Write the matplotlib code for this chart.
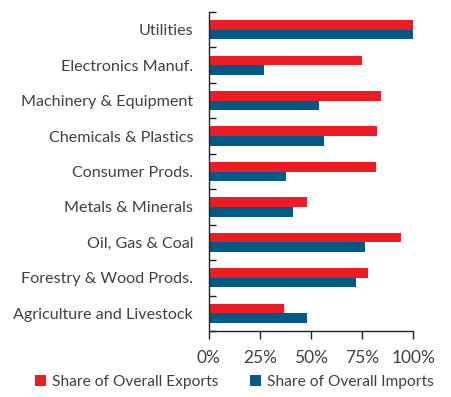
import numpy as np
import matplotlib
matplotlib.use('Agg')
import matplotlib.pyplot as plt
from matplotlib.ticker import FixedLocator, PercentFormatter

# Sector shares, top to bottom as listed
sectors = ['Utilities', 'Electronics Manuf.', 'Machinery & Equipment',
           'Chemicals & Plastics', 'Consumer Prods.', 'Metals & Minerals',
           'Oil, Gas & Coal', 'Forestry & Wood Prods.', 'Agriculture and Livestock']
exports = [100, 75, 84, 82, 81.5, 48, 94, 78, 37]
imports = [100, 27, 54, 56.5, 38, 41, 76.5, 72, 48]

red = '#ED1C24'
blue = '#005A87'
txt = '#404040'

plt.rcParams['font.family'] = ['Lato', 'DejaVu Sans']
plt.rcParams['font.size'] = 11.6

fig = plt.figure(figsize=(4.52, 3.97), dpi=100)
ax = fig.add_axes([0.4613, 0.1662, 0.4535, 0.8036])

n = len(sectors)
y = np.arange(n)[::-1]
h = 0.27
ax.barh(y + h / 2, exports, height=h, color=red, label='Share of Overall Exports')
ax.barh(y - h / 2, imports, height=h, color=blue, label='Share of Overall Imports')

ax.set_xlim(0, 100)
ax.set_ylim(-0.5, n - 0.5)
ax.set_yticks(y)
ax.set_yticklabels(sectors, color=txt)
ax.yaxis.set_minor_locator(FixedLocator(np.arange(-0.5, n, 1.0)))
ax.tick_params(axis='y', which='major', length=0, pad=11)
ax.tick_params(axis='y', which='minor', direction='in', length=5, width=1, color='#222222')

ax.set_xticks([0, 25, 50, 75, 100])
ax.xaxis.set_major_formatter(PercentFormatter(decimals=0))
ax.tick_params(axis='x', direction='out', length=6, width=1, color='#222222',
               pad=8, labelsize=12.5, labelcolor=txt)

for s in ['top', 'right']:
    ax.spines[s].set_visible(False)
for s in ['left', 'bottom']:
    ax.spines[s].set_color('#222222')
    ax.spines[s].set_linewidth(1)

fig.legend(loc='center', bbox_to_anchor=(0.519, 0.038), ncol=2, frameon=False,
           handlelength=0.7, handleheight=0.7, handletextpad=0.4,
           columnspacing=2.0, fontsize=11.2, labelcolor=txt)

fig.savefig('out.png', dpi=100)
